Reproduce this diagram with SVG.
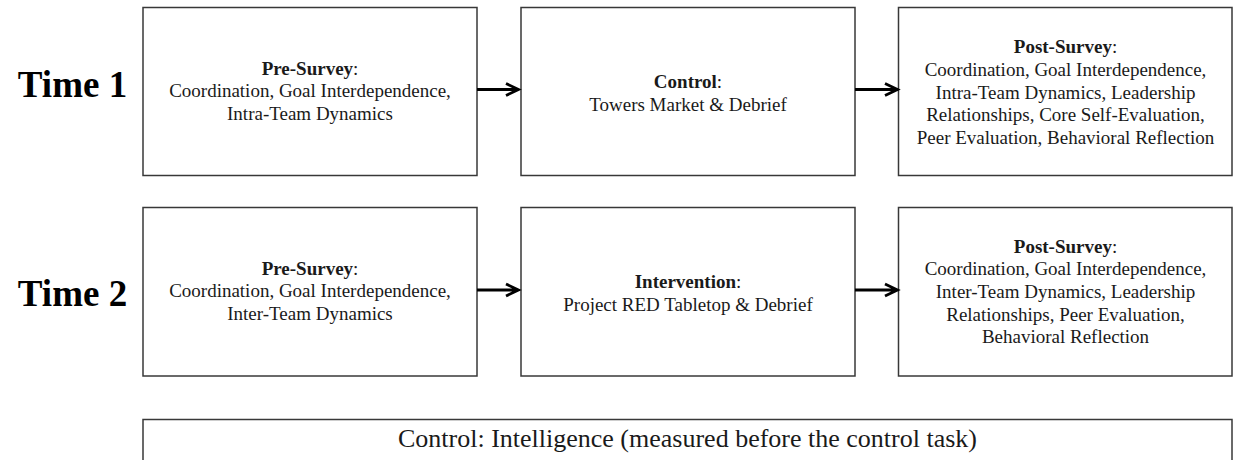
<svg xmlns="http://www.w3.org/2000/svg" width="1235" height="460" viewBox="0 0 1235 460">
<style>
  .box { fill: #ffffff; stroke: #383838; stroke-width: 1.5; }
  .t { font-family: "Liberation Serif", "Times New Roman", serif; font-size: 19px; fill: #1a1a1a; text-anchor: middle; }
  .b { font-weight: bold; }
  .time { font-family: "Liberation Serif", "Times New Roman", serif; font-size: 37px; font-weight: bold; fill: #000; text-anchor: middle; }
  .big { font-family: "Liberation Serif", "Times New Roman", serif; font-size: 26px; fill: #1a1a1a; text-anchor: middle; }
  .arr { fill: none; stroke: #000; stroke-width: 2.8; stroke-linejoin: miter; stroke-linecap: butt; }
</style>
<rect width="1235" height="460" fill="#ffffff"/>

<g id="label-time1"><text class="time" x="72.5" y="97">Time 1</text></g>
<g id="label-time2"><text class="time" x="72.5" y="306">Time 2</text></g>

<g id="t1-pre">
  <rect class="box" x="143" y="7.5" width="334" height="168"/>
  <text class="t" x="310" y="74.5"><tspan class="b">Pre-Survey</tspan>:</text>
  <text class="t" x="310" y="97.2">Coordination, Goal Interdependence,</text>
  <text class="t" x="310" y="119.9">Intra-Team Dynamics</text>
</g>
<g id="t1-control">
  <rect class="box" x="521" y="7.5" width="334" height="168"/>
  <text class="t" x="688" y="88"><tspan class="b">Control</tspan>:</text>
  <text class="t" x="688" y="111">Towers Market &amp; Debrief</text>
</g>
<g id="t1-post">
  <rect class="box" x="898.5" y="7.5" width="333.5" height="168"/>
  <text class="t" x="1065.5" y="53"><tspan class="b">Post-Survey</tspan>:</text>
  <text class="t" x="1065.5" y="75.8">Coordination, Goal Interdependence,</text>
  <text class="t" x="1065.5" y="98.6">Intra-Team Dynamics, Leadership</text>
  <text class="t" x="1065.5" y="121.4">Relationships, Core Self-Evaluation,</text>
  <text class="t" x="1065.5" y="144.2">Peer Evaluation, Behavioral Reflection</text>
</g>

<g id="t2-pre">
  <rect class="box" x="143" y="207.5" width="334" height="168.5"/>
  <text class="t" x="310" y="274.5"><tspan class="b">Pre-Survey</tspan>:</text>
  <text class="t" x="310" y="297.2">Coordination, Goal Interdependence,</text>
  <text class="t" x="310" y="319.9">Inter-Team Dynamics</text>
</g>
<g id="t2-intervention">
  <rect class="box" x="521" y="207.5" width="334" height="168.5"/>
  <text class="t" x="688" y="287.5"><tspan class="b">Intervention</tspan>:</text>
  <text class="t" x="688" y="310.5">Project RED Tabletop &amp; Debrief</text>
</g>
<g id="t2-post">
  <rect class="box" x="898.5" y="207.5" width="333.5" height="168.5"/>
  <text class="t" x="1065.5" y="252.5"><tspan class="b">Post-Survey</tspan>:</text>
  <text class="t" x="1065.5" y="275.2">Coordination, Goal Interdependence,</text>
  <text class="t" x="1065.5" y="297.9">Inter-Team Dynamics, Leadership</text>
  <text class="t" x="1065.5" y="320.6">Relationships, Peer Evaluation,</text>
  <text class="t" x="1065.5" y="343.3">Behavioral Reflection</text>
</g>

<g id="control-intelligence">
  <rect class="box" x="143" y="419.5" width="1089" height="44"/>
  <text class="big" x="687.5" y="447">Control: Intelligence (measured before the control task)</text>
</g>

<g id="connectors">
  <path class="arr" d="M477,89.5 H518 M506,83.5 L518.5,89.5 L506,95.5"/>
  <path class="arr" d="M855,89.5 H897 M885,83.5 L897.5,89.5 L885,95.5"/>
  <path class="arr" d="M477,290 H518 M506,284 L518.5,290 L506,296"/>
  <path class="arr" d="M855,290 H897 M885,284 L897.5,290 L885,296"/>
</g>
</svg>
